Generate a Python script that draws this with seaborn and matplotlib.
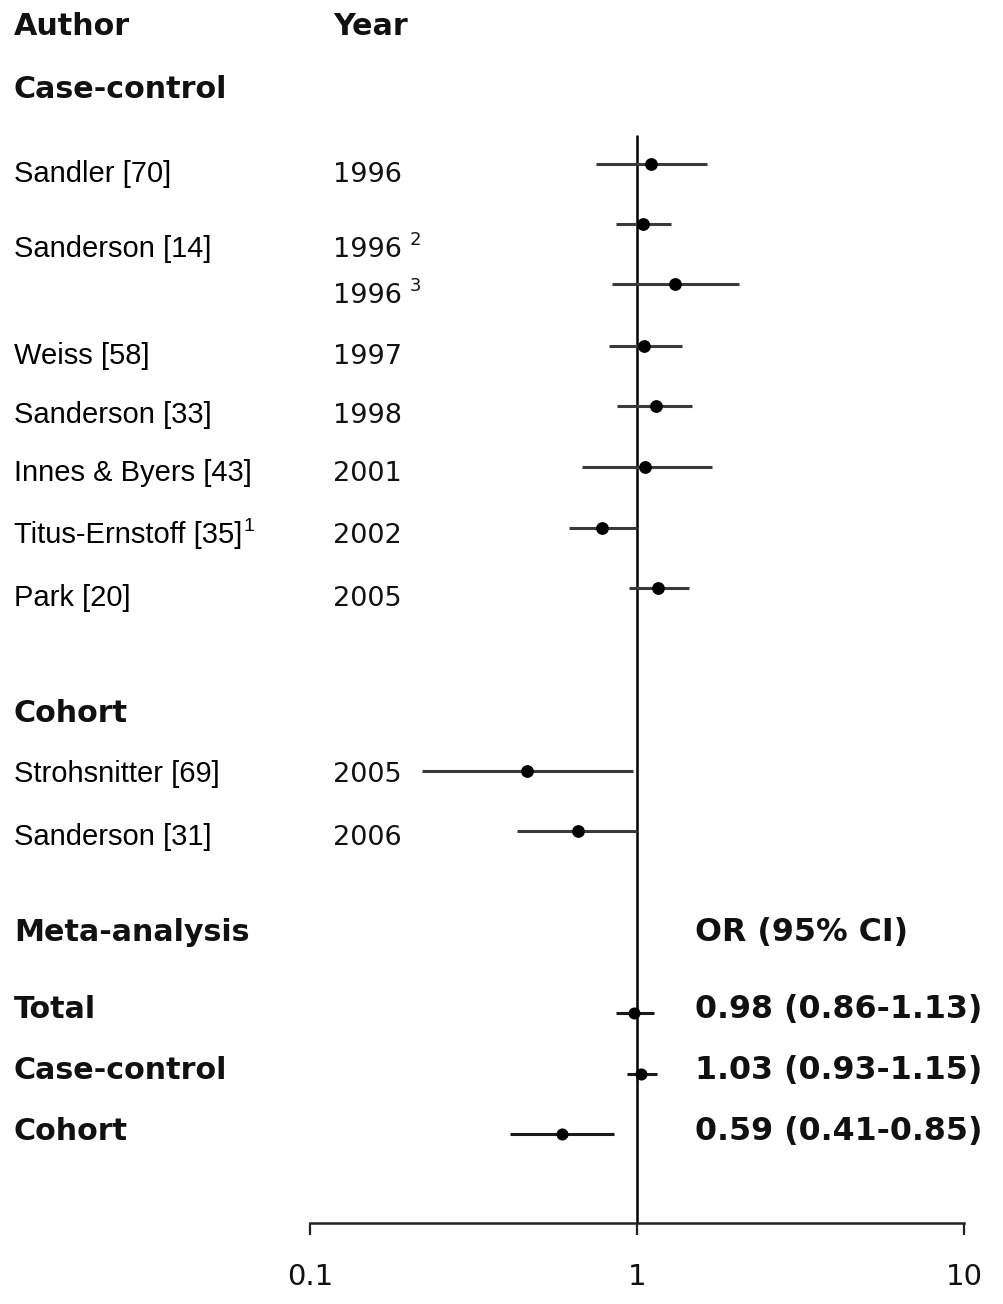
import numpy as np
import pandas as pd
import matplotlib
matplotlib.use("Agg")
import matplotlib.pyplot as plt
import seaborn as sns

# Individual studies (odds ratio and 95% CI)
authors = ["Sandler [70]", "Sanderson [14]", "", "Weiss [58]", "Sanderson [33]",
           "Innes & Byers [43]", "Titus-Ernstoff [35]", "Park [20]",
           "Strohsnitter [69]", "Sanderson [31]"]
author_notes = ["", "", "", "", "", "", "1", "", "", ""]
years = ["1996", "1996", "1996", "1997", "1998", "2001", "2002", "2005",
         "2005", "2006"]
year_notes = ["", "2", "3", "", "", "", "", "", "", ""]
odds = [1.10, 1.04, 1.31, 1.05, 1.14, 1.06, 0.78, 1.16, 0.46, 0.66]
ci_low = [0.75, 0.86, 0.84, 0.82, 0.87, 0.68, 0.62, 0.945, 0.22, 0.43]
ci_high = [1.64, 1.27, 2.05, 1.37, 1.47, 1.70, 1.00, 1.44, 0.97, 1.00]

# Pooled estimates
meta_labels = ["Total", "Case-control", "Cohort"]
meta_or = [0.98, 1.03, 0.59]
meta_low = [0.86, 0.93, 0.41]
meta_high = [1.13, 1.15, 0.85]
meta_text = ["0.98 (0.86-1.13)", "1.03 (0.93-1.15)", "0.59 (0.41-0.85)"]

x_ticks = [0.1, 1, 10]

# layout (pixel rows of the 1004x1304 canvas)
study_mark_y = [164, 224, 284, 346, 406, 467, 528, 588, 771, 831]
study_text_y = [182, 257, 303, 364, 423, 481, 543, 606, 782, 845]
meta_mark_y = [1013, 1074, 1134]
meta_text_y = [1018, 1079, 1140]

studies = pd.DataFrame({"author": authors, "year": years, "OR": odds,
                        "lo": ci_low, "hi": ci_high, "y": study_mark_y})
pooled = pd.DataFrame({"label": meta_labels, "OR": meta_or, "lo": meta_low,
                       "hi": meta_high, "y": meta_mark_y})

sns.set_theme(style="white")
plt.rcParams['font.family'] = ['DejaVu Sans']

W, H = 1004, 1304
fig = plt.figure(figsize=(W / 100, H / 100), dpi=100)

# text layer in pixel coordinates
tax = fig.add_axes([0, 0, 1, 1])
tax.set_xlim(0, W)
tax.set_ylim(H, 0)
tax.axis('off')

# forest axes: x from 0.1 (px 310) to 10 (px 964), bottom spine at px 1223
x0, x1, ybot = 310, 964, 1223
ax = fig.add_axes([x0 / W, (H - ybot) / H, (x1 - x0) / W, ybot / H])
ax.patch.set_alpha(0)
ax.set_xscale('log')
ax.set_xlim(0.1, 10)
ax.set_ylim(ybot, 0)

ax.vlines(1, 135, ybot, color='black', lw=1.8)
ax.hlines(studies['y'], studies['lo'], studies['hi'], color='#3a3a3a', lw=2.2)
ax.hlines(pooled['y'], pooled['lo'], pooled['hi'], color='#1a1a1a', lw=2.2)
sns.scatterplot(data=studies, x='OR', y='y', ax=ax, color='black', s=85,
                edgecolor='black', linewidth=0, zorder=3)
sns.scatterplot(data=pooled, x='OR', y='y', ax=ax, color='black', s=75,
                edgecolor='black', linewidth=0, zorder=3)

for s in ['top', 'right', 'left']:
    ax.spines[s].set_visible(False)
ax.spines['bottom'].set_color('#222222')
ax.spines['bottom'].set_linewidth(1.8)
ax.set_yticks([])
ax.set_xticks(x_ticks)
ax.set_xticklabels(['0.1', '1', '10'])
ax.minorticks_off()
ax.tick_params(axis='x', bottom=True, direction='out', length=8.5, width=1.6,
               color='#222222', labelcolor='#111111', labelsize=21, pad=20)
ax.set_xlabel('')
ax.set_ylabel('')

# headers
bold = dict(fontsize=21.7, fontweight='bold', color='#111111', family='DejaVu Sans')
tax.text(14, 35, "Author", **bold)
tax.text(333, 35, "Year", **bold)
tax.text(14, 98, "Case-control", **bold)
tax.text(14, 722, "Cohort", **bold)
tax.text(14, 941, "Meta-analysis", **bold)
tax.text(695, 941, "OR (95% CI)", fontsize=22.8, fontweight='bold',
         color='#111111', family='DejaVu Sans')

# study rows, footnote markers drawn as raised smaller text
for a, an, yr, yn, ty in zip(authors, author_notes, years, year_notes, study_text_y):
    if a:
        t = tax.text(14, ty, a, fontsize=21, family='Liberation Sans', color='black')
        if an:
            fig.canvas.draw()
            bb = t.get_window_extent()
            xr = bb.x1 + 1
            tax.text(xr, ty - 12, an, fontsize=14, family='Liberation Sans',
                     color='black')
    t = tax.text(333, ty, yr, fontsize=19.5, family='DejaVu Sans', color='#111111')
    if yn:
        tax.text(410, ty - 12, yn, fontsize=13, family='DejaVu Sans', color='#111111')

# pooled rows
for lab, txt, ty in zip(meta_labels, meta_text, meta_text_y):
    tax.text(14, ty, lab, **bold)
    tax.text(695, ty, txt, fontsize=22.8, fontweight='bold', color='#111111',
             family='DejaVu Sans')

fig.savefig('out.png', dpi=100)
